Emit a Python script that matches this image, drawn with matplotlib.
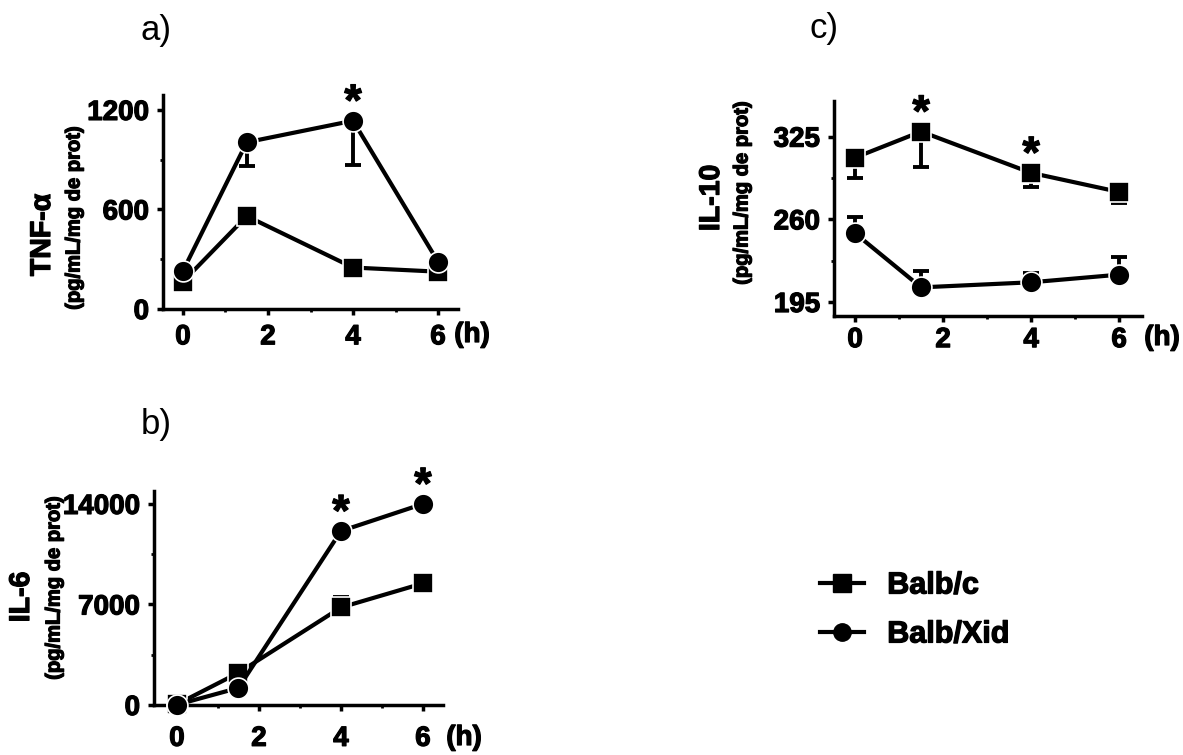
import matplotlib.pyplot as plt
from matplotlib.ticker import MultipleLocator
from matplotlib.lines import Line2D
import matplotlib.patheffects as pe

plt.rcParams['font.family'] = ['Liberation Sans', 'DejaVu Sans']

W, H = 1183, 755
heavy = [pe.withStroke(linewidth=0.9, foreground='black')]

# data
time_h = [0, 1.5, 4, 6]

tnf_balbc = [165, 560, 250, 225]
tnf_xid = [230, 1005, 1135, 285]
tnf_xid_err_low = [0, 145, 265, 0]
tnf_stars = [(4, 1135)]

il6_balbc = [50, 2240, 6790, 8470]
il6_balbc_err_up = [0, 0, 700, 0]
il6_xid = [20, 1190, 12110, 14000]
il6_stars = [(4, 12110), (6, 14000)]

il10_balbc = [308.5, 329, 296.5, 281.5]
il10_balbc_err_low = [16, 28, 11, 9]
il10_xid = [249, 206.5, 210.5, 216.5]
il10_xid_err_up = [13, 12.5, 7.5, 14]
il10_stars = [(1.5, 329), (4, 296.5)]

xticks = [0, 2, 4, 6]


def px_rect(left, right, bottom, top):
    return [left / W, 1 - bottom / H, (right - left) / W, (bottom - top) / H]


def style_axes(ax, xlim, ylim, yticks, yminor, xpad):
    ax.set_xlim(*xlim)
    ax.set_ylim(*ylim)
    ax.set_xticks(xticks)
    ax.set_yticks(yticks)
    ax.yaxis.set_minor_locator(MultipleLocator(yminor))
    ax.xaxis.set_minor_locator(MultipleLocator(1))
    for s in ['top', 'right']:
        ax.spines[s].set_visible(False)
    for s in ['left', 'bottom']:
        ax.spines[s].set_linewidth(2.5)
    ax.tick_params(which='major', length=4, width=2.5, labelsize=20)
    ax.tick_params(axis='y', pad=6)
    ax.tick_params(axis='x', pad=xpad)
    ax.tick_params(which='minor', length=2.5, width=2)
    for lab in ax.get_xticklabels() + ax.get_yticklabels():
        lab.set_fontweight('bold')
        lab.set_path_effects(heavy)


def series(ax, y, marker, err=None, up=False):
    ax.plot(time_h, y, '-', color='black', lw=3, marker=marker, ms=15,
            mfc='black', mec='white', mew=1.2, clip_on=False, zorder=3)
    if err is not None:
        zeros = [0] * len(err)
        yerr = [zeros, err] if up else [err, zeros]
        ax.errorbar(time_h, y, yerr=yerr, fmt='none', ecolor='black',
                    elinewidth=2.8, capsize=5.5, capthick=2.8, zorder=2)


def stars(ax, pts):
    for x, y in pts:
        ax.annotate('*', (x, y), xytext=(0, 4), textcoords='offset points',
                    ha='center', va='baseline', fontsize=32, fontweight='bold',
                    path_effects=heavy)


fig = plt.figure(figsize=(W / 100, H / 100), dpi=100)

# a) TNF-alpha
ax_a = fig.add_axes(px_rect(163, 458, 309, 95))
series(ax_a, tnf_balbc, 's')
series(ax_a, tnf_xid, 'o', tnf_xid_err_low)
stars(ax_a, tnf_stars)
style_axes(ax_a, (-0.47, 6.47), (0, 1290), [0, 600, 1200], 300, 7)

# b) IL-6
ax_b = fig.add_axes(px_rect(154, 443, 705, 491))
series(ax_b, il6_balbc, 's', il6_balbc_err_up, up=True)
series(ax_b, il6_xid, 'o')
stars(ax_b, il6_stars)
style_axes(ax_b, (-0.56, 6.49), (0, 14900), [0, 7000, 14000], 3500, 11)

# c) IL-10
ax_c = fig.add_axes(px_rect(834, 1142, 316, 101))
series(ax_c, il10_balbc, 's', il10_balbc_err_low)
series(ax_c, il10_xid, 'o', il10_xid_err_up, up=True)
stars(ax_c, il10_stars)
style_axes(ax_c, (-0.48, 6.52), (184, 353), [195, 260, 325], 32.5, 4)


def ftext(x, y, s, **kw):
    fig.text(x / W, 1 - y / H, s, **kw)


# panel letters
ftext(156, 40, 'a)', fontsize=25, ha='center', va='baseline')
ftext(156, 434, 'b)', fontsize=25, ha='center', va='baseline')
ftext(824, 38, 'c)', fontsize=25, ha='center', va='baseline')

# y labels
ylab = dict(rotation=90, ha='center', va='center', fontweight='bold',
            path_effects=heavy)
ftext(43, 235, 'TNF-α', fontsize=20.5, **ylab)
ftext(74, 218, '(pg/mL/mg de prot)', fontsize=14.5, **ylab)
ftext(22, 597, 'IL-6', fontsize=20.5, **ylab)
ftext(54, 588, '(pg/mL/mg de prot)', fontsize=14.5, **ylab)
ftext(712, 198, 'IL-10', fontsize=20.5, **ylab)
ftext(742, 193, '(pg/mL/mg de prot)', fontsize=14.5, **ylab)

# (h) labels
hl = dict(fontsize=20, fontweight='bold', ha='center', va='center',
          path_effects=heavy)
ftext(472, 335, '(h)', **hl)
ftext(464, 738, '(h)', **hl)
ftext(1162, 338, '(h)', **hl)

# legend
handles = [Line2D([], [], color='black', lw=3, marker='s', ms=12.5),
           Line2D([], [], color='black', lw=3, marker='o', ms=12.5)]
leg = fig.legend(handles, ['Balb/c', 'Balb/Xid'], loc='center left',
                 bbox_to_anchor=(820 / W, 1 - 610 / H), frameon=False,
                 borderpad=0, borderaxespad=0, handlelength=1.45,
                 handletextpad=0.75, labelspacing=0.62,
                 prop={'size': 22, 'weight': 'bold'})
for t in leg.get_texts():
    t.set_path_effects(heavy)

fig.savefig('out.png', dpi=100)
